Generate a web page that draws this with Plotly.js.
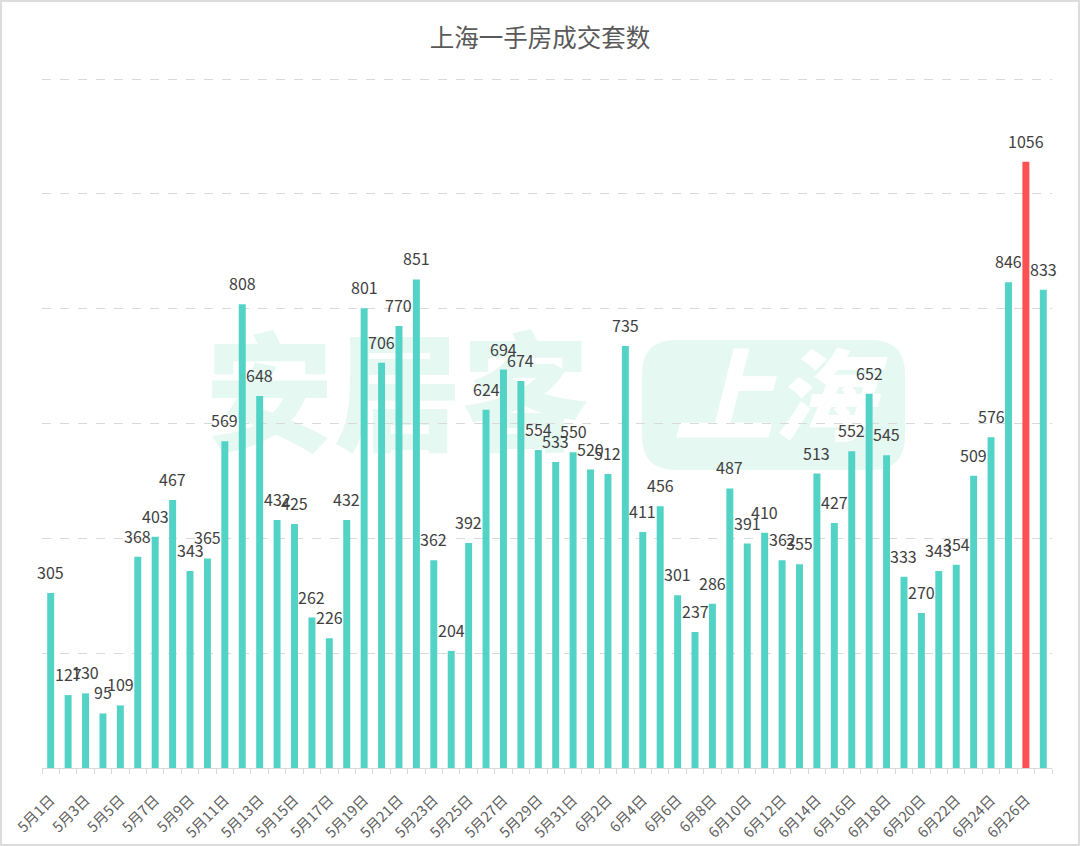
<!DOCTYPE html>
<html>
<head>
<meta charset="utf-8">
<script src="https://cdn.plot.ly/plotly-3.0.1.min.js"></script>
<style>html,body{margin:0;padding:0;background:#fff;}#chart{width:1080px;height:846px;}</style>
</head>
<body>
<div id="chart"></div>
<script>
const dates = [
  "5月1日","5月2日","5月3日","5月4日","5月5日","5月6日","5月7日","5月8日","5月9日","5月10日",
  "5月11日","5月12日","5月13日","5月14日","5月15日","5月16日","5月17日","5月18日","5月19日","5月20日",
  "5月21日","5月22日","5月23日","5月24日","5月25日","5月26日","5月27日","5月28日","5月29日","5月30日","5月31日",
  "6月1日","6月2日","6月3日","6月4日","6月5日","6月6日","6月7日","6月8日","6月9日","6月10日",
  "6月11日","6月12日","6月13日","6月14日","6月15日","6月16日","6月17日","6月18日","6月19日","6月20日",
  "6月21日","6月22日","6月23日","6月24日","6月25日","6月26日","6月27日"
];
const deals = [
  305,127,130,95,109,368,403,467,343,365,
  569,808,648,432,425,262,226,432,801,706,
  770,851,362,204,392,624,694,674,554,533,550,
  520,512,735,411,456,301,237,286,487,391,
  410,362,355,513,427,552,652,545,333,270,
  343,354,509,576,846,1056,833
];
const highlightDate = "6月26日";
const titleText = "上海一手房成交套数";
const watermarkBrand = "安居客";
const watermarkCity = "上海";

const normalColor = "#52d3c6";
const highColor = "#fd5050";
const colors = dates.map(d => d === highlightDate ? highColor : normalColor);
const tickText = dates.map((d, i) => i % 2 === 0 ? d : "");

const font = "'Noto Sans CJK SC', 'Noto Sans', sans-serif";

const trace = {
  type: "bar",
  x: dates,
  y: deals,
  marker: {color: colors},
  hoverinfo: "x+y"
};

const valueLabels = dates.map((d, i) => ({
  x: d, y: deals[i], xref: "x", yref: "y",
  text: String(deals[i]), showarrow: false,
  xanchor: "center", yanchor: "middle", yshift: 21,
  font: {family: font, size: 16, color: "#404040"}
}));

const W = 1010, H = 690, L = 42, T = 78;
const px = v => (v - L) / W;
const py = v => (T + H - v) / H;

function roundRect(x0, y0, x1, y1, r) {
  const rx = r / W, ry = r / H;
  const a = px(x0), b = px(x1), c = py(y1), d = py(y0);
  return `M ${a + rx} ${c} L ${b - rx} ${c} Q ${b} ${c} ${b} ${c + ry} L ${b} ${d - ry} Q ${b} ${d} ${b - rx} ${d} ` +
         `L ${a + rx} ${d} Q ${a} ${d} ${a} ${d - ry} L ${a} ${c + ry} Q ${a} ${c} ${a + rx} ${c} Z`;
}

const layout = {
  width: 1080,
  height: 846,
  margin: {l: L, r: 1080 - L - W, t: T, b: 846 - T - H},
  paper_bgcolor: "#ffffff",
  plot_bgcolor: "#ffffff",
  showlegend: false,
  bargap: 0.6,
  title: {
    text: titleText,
    x: 0.5, xanchor: "center",
    y: 1 - 38 / 846, yanchor: "middle",
    font: {family: font, size: 24.5, color: "#595959"}
  },
  xaxis: {
    type: "category",
    automargin: false,
    range: [-0.5, dates.length - 0.5],
    tickmode: "array",
    tickvals: dates,
    ticktext: tickText,
    tickangle: -45,
    tickson: "boundaries",
    ticks: "outside",
    ticklen: 5,
    tickcolor: "#d9d9d9",
    ticklabelstandoff: 17,
    showline: true,
    linecolor: "#d9d9d9",
    linewidth: 1,
    showgrid: false,
    tickfont: {family: font, size: 14.5, color: "#606060"},
    fixedrange: true
  },
  yaxis: {
    automargin: false,
    range: [0, 1202],
    dtick: 200,
    showticklabels: false,
    showgrid: true,
    gridcolor: "#d9d9d9",
    griddash: "dash",
    gridwidth: 1,
    zeroline: false,
    showline: false,
    ticks: "",
    fixedrange: true
  },
  annotations: valueLabels,
  shapes: [
    {
      type: "rect", xref: "paper", yref: "paper", layer: "below",
      x0: px(200), x1: px(595), y0: py(470), y1: py(340),
      line: {width: 0}, fillcolor: "rgba(0,0,0,0)",
      label: {text: watermarkBrand, textposition: "middle center",
              font: {family: font, size: 128, color: "#e5f8f2", weight: 900}}
    },
    {
      type: "path", xref: "paper", yref: "paper", layer: "below",
      path: roundRect(642, 340, 905, 470, 34),
      line: {width: 0}, fillcolor: "#e5f8f2",
      label: {text: watermarkCity, textposition: "middle center",
              font: {family: font, size: 100, color: "#ffffff", weight: 900, style: "italic"}}
    },
    {
      type: "rect", xref: "paper", yref: "paper", layer: "above",
      x0: px(1), x1: px(1079), y0: py(845), y1: py(1),
      line: {width: 2, color: "#dcdcdc"}, fillcolor: "rgba(0,0,0,0)"
    }
  ]
};

Plotly.newPlot("chart", [trace], layout, {displayModeBar: false, staticPlot: true});
</script>
</body>
</html>
